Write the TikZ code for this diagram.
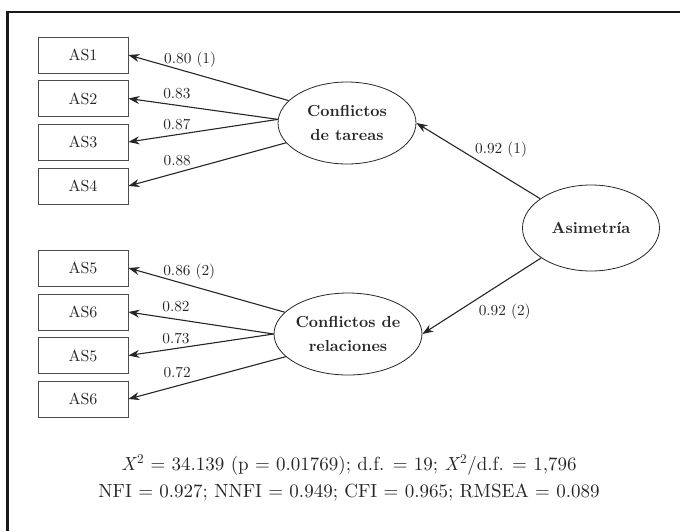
\documentclass[tikz,border=0pt]{standalone}
\usepackage{fontspec}
\setmainfont{lmroman10}[Extension=.otf,UprightFont=*-regular,BoldFont=*-bold,ItalicFont=*-italic,BoldItalicFont=*-bolditalic]
\usetikzlibrary{arrows.meta,shapes.geometric}
\begin{document}
\begin{tikzpicture}[x=1pt,y=-1pt,
  every node/.style={font=\fontsize{16}{18}\selectfont,text=black!85},
  obs/.style={rectangle,draw=black!70,line width=0.8pt,minimum width=90pt,minimum height=36pt,inner sep=0pt},
  lat/.style={ellipse,draw=black!85,line width=0.8pt,minimum width=138pt,minimum height=82pt,inner sep=0pt,align=center,font=\fontsize{16}{24}\selectfont\bfseries},
  lbl/.style={anchor=base west,inner sep=0pt,font=\fontsize{15.3}{18}\selectfont},
  ld/.style={draw=black!85,line width=1.1pt,-{Stealth[length=11pt,width=8pt,inset=3.5pt]}}]
\useasboundingbox (0,0) rectangle (680,531);
\draw[line width=2.8pt,black!90] (680,12) -- (7.5,12) -- (7.5,531);
% observed items
\foreach \i/\y/\t in {1/55/AS1,2/98.5/AS2,3/142/AS3,4/186/AS4,5/268/AS5,6/312/AS6,7/355.5/AS5,8/399/AS6} {
	\node[obs] (as-\i) at (83,\y) {\t};
}
% latent factors
\node[lat] (tar) at (347,123) {Conflictos\\de tareas};
\node[lat] (rel) at (348,334) {Conflictos de\\relaciones};
\node[lat,minimum width=137pt,minimum height=86pt] (asim) at (591,228) {Asimetría};
\draw[ld] (tar.159) -- node[lbl,pos=0.78,yshift=2pt] {0.80 (1)} (as-1.east);
\draw[ld] (tar.177) -- node[lbl,pos=0.77,yshift=4.5pt] {0.83} (as-2.east);
\draw[ld] (tar.177) -- node[lbl,pos=0.77,yshift=7pt] {0.87} (as-3.east);
\draw[ld] (tar.198) -- node[lbl,pos=0.78,yshift=11.5pt] {0.88} (as-4.east);
\draw[ld] (rel.161) -- node[lbl,pos=0.78,yshift=2pt] {0.86 (2)} (as-5.east);
\draw[ld] (rel.180) -- node[lbl,pos=0.77,yshift=6pt] {0.82} (as-6.east);
\draw[ld] (rel.180) -- node[lbl,pos=0.77,yshift=7.5pt] {0.73} (as-7.east);
\draw[ld] (rel.200) -- node[lbl,pos=0.78,yshift=12.5pt] {0.72} (as-8.east);
\draw[ld] (asim.150) -- node[lbl,pos=0.53,yshift=5pt] {0.92 (1)} (tar.east);
\draw[ld] (asim.211) -- node[lbl,pos=0.53,yshift=-17.5pt] {0.92 (2)} (rel.east);
% fit indices
\node[anchor=base,align=center,font=\fontsize{19}{27}\selectfont] (fit) at (349,497)
  {\textit{X}\textsuperscript{2} = 34.139 (p = 0.01769); d.f. = 19; \textit{X}\textsuperscript{2}/d.f. = 1,796\\
   NFI = 0.927; NNFI = 0.949; CFI = 0.965; RMSEA = 0.089};
\end{tikzpicture}
\end{document}
